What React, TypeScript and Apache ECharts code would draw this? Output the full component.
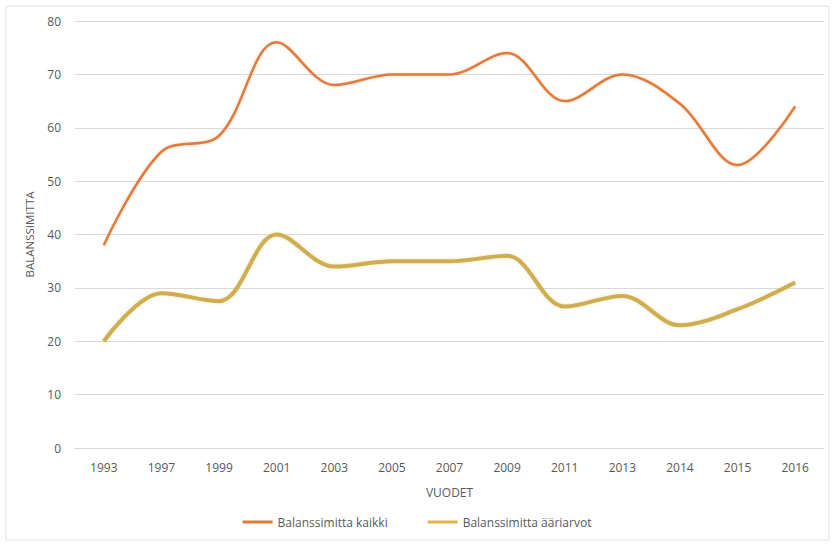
import React, { useEffect, useRef } from "react";
import * as echarts from "echarts";

const years = ["1993", "1997", "1999", "2001", "2003", "2005", "2007", "2009", "2011", "2013", "2014", "2015", "2016"];
const kaikki = [38, 55.5, 58.5, 76, 68, 70, 70, 74, 65, 70, 64.5, 53, 64];
const aariarvot = [20, 29, 27.5, 40, 34, 35, 35, 36, 26.5, 28.5, 23, 26, 31];
const yTicks = { min: 0, max: 80, interval: 10 };

export default function App() {
  const ref = useRef<HTMLDivElement>(null);
  useEffect(() => {
    if (!ref.current) return;
    const chart = echarts.init(ref.current, null, { renderer: "svg" });
    const font = "Open Sans, Liberation Sans, sans-serif";
    chart.setOption({
      animation: false,
      backgroundColor: "#ffffff",
      textStyle: { fontFamily: font },
      graphic: [
        {
          type: "rect",
          shape: { x: 6, y: 6, width: 823, height: 534 },
          style: { fill: "none", stroke: "#e3e3e3", lineWidth: 1 },
          silent: true,
        },
      ],
      grid: { left: 75, right: 10, top: 21, bottom: 97, containLabel: false },
      xAxis: {
        type: "category",
        data: years,
        boundaryGap: true,
        name: "VUODET",
        nameLocation: "middle",
        nameGap: 38,
        nameTextStyle: { color: "#595959", fontSize: 12, fontFamily: font },
        axisLine: { show: true, lineStyle: { color: "#d9d9d9", width: 1 } },
        axisTick: { show: false },
        axisLabel: { color: "#595959", fontSize: 12, margin: 13, fontFamily: font },
      },
      yAxis: {
        type: "value",
        min: yTicks.min,
        max: yTicks.max,
        interval: yTicks.interval,
        name: "BALANSSIMITTA",
        nameLocation: "middle",
        nameGap: 40,
        nameTextStyle: { color: "#595959", fontSize: 11.5, fontFamily: font },
        axisLine: { show: false },
        axisTick: { show: false },
        axisLabel: { color: "#595959", fontSize: 12, margin: 14, fontFamily: font },
        splitLine: { lineStyle: { color: "#d9d9d9", width: 1 } },
      },
      legend: {
        bottom: 12,
        left: "center",
        itemGap: 40,
        itemWidth: 30,
        itemHeight: 3,
        icon: "rect",
        textStyle: { color: "#595959", fontSize: 12, fontFamily: font },
        data: ["Balanssimitta kaikki", "Balanssimitta ääriarvot"],
      },
      series: [
        {
          name: "Balanssimitta kaikki",
          type: "line",
          data: kaikki,
          smooth: 0.35,
          symbol: "none",
          color: "#e07a3c",
          lineStyle: { color: "#e07a3c", width: 2.5, shadowColor: "rgba(240,160,100,0.45)", shadowBlur: 3 },
        },
        {
          name: "Balanssimitta ääriarvot",
          type: "line",
          data: aariarvot,
          smooth: 0.35,
          symbol: "none",
          color: "#dcb54c",
          lineStyle: { color: "#cfae52", width: 4, shadowColor: "rgba(230,200,100,0.5)", shadowBlur: 3 },
        },
      ],
    });
    return () => chart.dispose();
  }, []);
  return <div ref={ref} style={{ width: 834, height: 545, position: "absolute", left: 0, top: 0 }} />;
}
